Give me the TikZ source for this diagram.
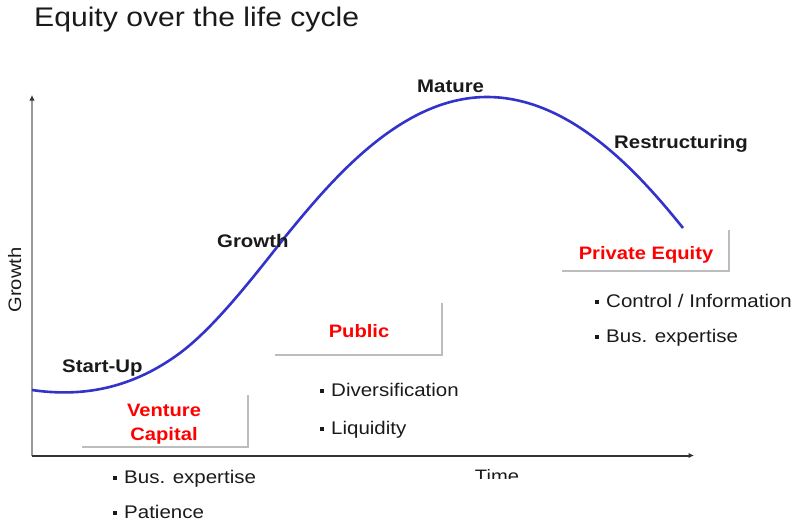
\documentclass[tikz,border=0pt]{standalone}
\usepackage{fontspec}
\setmainfont{Liberation Sans}[FakeStretch=1.12]
\usetikzlibrary{arrows.meta}
\definecolor{curveblue}{HTML}{3333CC}
\definecolor{shadowgray}{HTML}{BDBDBD}
\definecolor{axisgray}{HTML}{9A9A9A}
\definecolor{txt}{HTML}{1A1A1A}
\begin{document}
\begin{tikzpicture}[x=1pt,y=-1pt,
  every node/.style={inner sep=0pt,text=txt},
  title/.style={font=\fontsize{26.9}{30}\selectfont,anchor=base west},
  stage/.style={font=\bfseries\fontsize{18.2}{20}\selectfont,anchor=base west},
  investor/.style={font=\bfseries\fontsize{18}{24}\selectfont,text=red,align=center,anchor=base},
  item/.style={font=\fontsize{18.3}{20}\selectfont,anchor=base west},
  shadowline/.style={draw=shadowgray,line width=2pt},
  lifecurve/.style={draw=curveblue,line width=2.6pt},
]
\useasboundingbox (0,0) rectangle (795,523);

% title
\node[title] (ttl) at (34,26) {Equity over the life cycle};

% axes
\coordinate (org) at (32,455.5);
\coordinate (ytop) at (32,95);
\coordinate (xend) at (694,455.5);
\draw[axisgray,line width=2.2pt,-{Latex[length=5.5pt,width=5.5pt,color=black!80]}] (org) -- (ytop);
\draw[black!80,line width=2pt,-{Latex[length=5.5pt,width=5.5pt]}] (org) -- (xend);
\node[font=\fontsize{18}{20}\selectfont,rotate=90,anchor=base] (ylab) at (21,280) {Growth};
\begin{scope}
  \clip (440,440) rectangle (560,478);
  \node[font=\fontsize{18}{20}\selectfont,anchor=base] (xlab) at (497,482) {Time};
\end{scope}

% life-cycle curve
\coordinate (c0) at (32,390);
\coordinate (c1) at (180,353);
\coordinate (c2) at (285,237);
\coordinate (c3) at (487,97);
\coordinate (c4) at (683,228);
\draw[lifecurve] (c0) .. controls (80,397) and (130,390) .. (c1)
  .. controls (215,327) and (255,275) .. (c2)
  .. controls (330,182) and (400,97) .. (c3)
  .. controls (570,97) and (638,172) .. (c4);

% stage labels
\node[stage] (startup) at (62,372) {Start-Up};
\node[stage] (growth) at (217,247) {Growth};
\node[stage] (mature) at (417,92) {Mature};
\node[stage] (restr) at (614,148) {Restructuring};

% investor boxes (shadow edges only)
\draw[shadowline] (82,447) -- (248,447) -- (248,395);
\draw[shadowline] (275,355) -- (442,355) -- (442,303);
\draw[shadowline] (562,271) -- (729,271) -- (729,230);
\node[investor] (vc) at (164,440) {Venture\\Capital};
\node[investor] (pub) at (359,337) {Public};
\node[investor] (pe) at (646,259) {Private Equity};

% bullet lists
\newcommand{\bul}{\raisebox{3.5pt}{\rule{3.5pt}{3.5pt}}\hspace{7.5pt}}
\node[item] (vc1) at (113,483) {\bul Bus. expertise};
\node[item] (vc2) at (113,518) {\bul Patience};
\node[item] (pu1) at (320,396) {\bul Diversification};
\node[item] (pu2) at (320,434) {\bul Liquidity};
\node[item] (pe1) at (595,307) {\bul Control / Information};
\node[item] (pe2) at (595,342) {\bul Bus. expertise};
\end{tikzpicture}
\end{document}
